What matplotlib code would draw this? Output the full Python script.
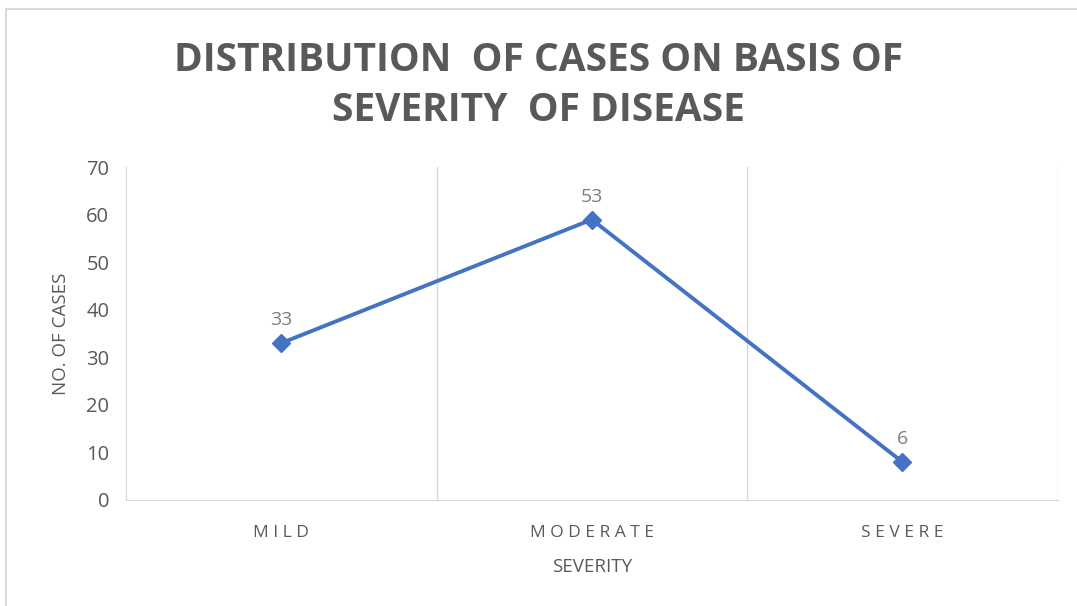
import matplotlib.pyplot as plt
from matplotlib.patches import Rectangle

# data
categories = ["MILD", "MODERATE", "SEVERE"]
cases = [33, 59, 8]
point_labels = ["33", "53", "6"]

grey = "#595959"
blue = "#4472C4"
plt.rcParams['font.family'] = ['Open Sans', 'DejaVu Sans']

fig = plt.figure(figsize=(10.77, 6.06), dpi=100)
fig.patches.append(Rectangle((0.006, -0.01), 1.1, 0.995, transform=fig.transFigure,
                             fill=False, edgecolor="#d9d9d9", linewidth=1.5))
ax = fig.add_axes([0.117, 0.175, 0.865, 0.549])

x = range(len(categories))
ax.plot(x, cases, color=blue, linewidth=2.8, marker="D", markersize=9, zorder=3)
for i in x:
    ax.annotate(point_labels[i], (i, cases[i]), xytext=(0, 10), textcoords="offset points",
                ha="center", va="bottom", fontsize=14, color="#7f7f7f")

ax.set_xlim(-0.5, 2.5)
ax.set_ylim(0, 70)
ax.set_yticks(range(0, 71, 10))
ax.set_xticks(list(x))
# letter-spaced category names, as in the original
ax.set_xticklabels([" ".join(c) for c in categories])
for b in [0.5, 1.5, 2.5]:
    ax.axvline(b, color="#d9d9d9", linewidth=1)
for s in ["top", "right"]:
    ax.spines[s].set_visible(False)
for s in ["left", "bottom"]:
    ax.spines[s].set_color("#d9d9d9")
ax.tick_params(length=0, colors=grey, labelsize=14.5)
ax.tick_params(axis="y", pad=12)
ax.tick_params(axis="x", pad=18)
for t in ax.get_xticklabels():
    t.set_fontsize(12.5)

ax.set_ylabel("NO. OF CASES", fontsize=13.5, color=grey, labelpad=12)
ax.set_xlabel("SEVERITY", fontsize=13.5, color=grey, labelpad=12)

fig.text(0.5, 0.9, "DISTRIBUTION  OF CASES ON BASIS OF", ha="center", va="center",
         fontsize=28, fontweight="bold", color=grey)
fig.text(0.5, 0.818, "SEVERITY  OF DISEASE", ha="center", va="center",
         fontsize=28, fontweight="bold", color=grey)

fig.savefig("out.png", dpi=100)
